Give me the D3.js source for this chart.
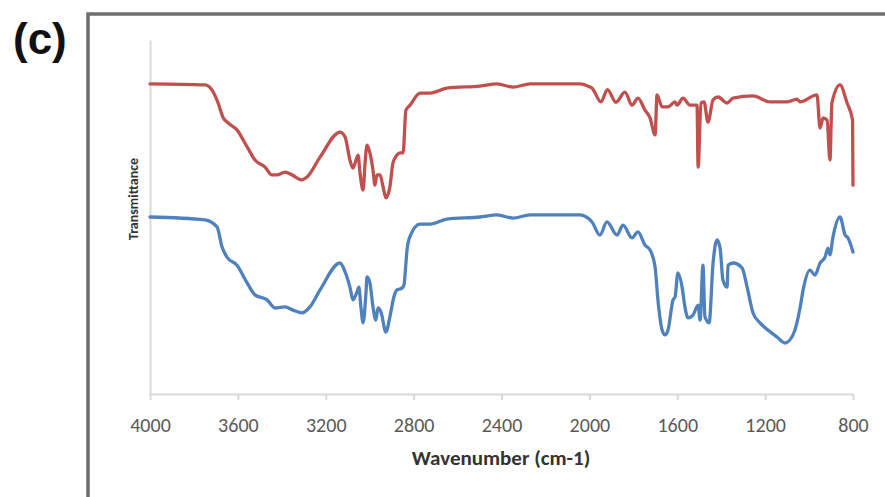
<!DOCTYPE html>
<html>
<head>
<meta charset="utf-8">
<script src="https://d3js.org/d3.v7.min.js"></script>
<style>
  body { margin: 0; background: #fff; }
  svg { display: block; }
</style>
</head>
<body>
<div id="chart"></div>
<script>
// spectra: wavenumber (cm-1) and relative transmittance
const redWave = [4000, 3750, 3718, 3690, 3668, 3645, 3604, 3558, 3522, 3476, 3445, 3422, 3385, 3354, 3308, 3285, 3226, 3135, 3112, 3090, 3076, 3053, 3044, 3030, 3021, 3012, 2999, 2985, 2976, 2967, 2953, 2939, 2926, 2908, 2894, 2876, 2862, 2848, 2835, 2816, 2771, 2725, 2648, 2498, 2420, 2348, 2270, 2043, 1997, 1988, 1947, 1918, 1879, 1838, 1806, 1779, 1747, 1724, 1701, 1692, 1669, 1642, 1610, 1601, 1574, 1542, 1510, 1505, 1492, 1478, 1460, 1437, 1414, 1373, 1346, 1255, 1178, 1100, 1055, 1041, 964, 950, 936, 918, 905, 896, 859, 827, 802, 800];
const redT = [87.6, 87.3, 85.9, 82.2, 78.2, 76.6, 74.6, 69.8, 66.1, 64.1, 61.9, 61.9, 62.7, 61.9, 60.5, 61.3, 66.9, 74.0, 72.6, 66.1, 63.8, 67.5, 62.4, 57.6, 65.3, 70.3, 68.1, 63.3, 59.0, 61.9, 61.9, 58.5, 55.4, 58.5, 65.3, 67.5, 68.1, 68.1, 80.2, 81.6, 85.0, 85.0, 86.4, 87.0, 87.6, 86.7, 87.6, 87.6, 86.7, 86.4, 82.5, 86.0, 82.4, 85.3, 81.6, 83.6, 80.2, 78.0, 73.2, 84.5, 81.1, 81.1, 82.5, 81.6, 83.6, 81.6, 81.6, 64.1, 82.2, 82.5, 76.8, 83.1, 83.9, 82.2, 83.6, 84.2, 82.5, 82.5, 83.3, 82.5, 84.5, 75.1, 78.0, 77.4, 66.1, 82.2, 87.3, 82.2, 77.4, 59.0];

const blueWave = [4000, 3750, 3695, 3672, 3650, 3604, 3558, 3522, 3467, 3431, 3385, 3349, 3308, 3272, 3226, 3135, 3112, 3090, 3076, 3058, 3049, 3040, 3030, 3017, 3012, 2999, 2985, 2972, 2962, 2949, 2926, 2908, 2890, 2876, 2853, 2844, 2835, 2830, 2816, 2771, 2725, 2648, 2498, 2420, 2348, 2270, 2043, 1988, 1952, 1920, 1874, 1847, 1806, 1779, 1747, 1724, 1701, 1688, 1669, 1656, 1642, 1619, 1610, 1597, 1578, 1565, 1551, 1528, 1505, 1496, 1483, 1474, 1455, 1437, 1419, 1405, 1392, 1373, 1369, 1346, 1305, 1282, 1255, 1223, 1169, 1146, 1110, 1073, 1041, 1027, 996, 973, 950, 927, 914, 905, 891, 859, 836, 823, 800];
const blueT = [50.0, 49.2, 47.2, 41.5, 38.7, 36.4, 31.4, 28.0, 26.6, 24.3, 24.6, 23.7, 22.9, 24.6, 29.4, 37.0, 34.5, 30.2, 26.6, 28.8, 30.2, 24.6, 20.1, 28.5, 33.1, 31.4, 24.6, 20.9, 24.3, 23.2, 17.5, 21.8, 27.4, 29.4, 29.9, 30.8, 37.0, 40.7, 44.6, 48.0, 48.0, 49.4, 50.0, 50.6, 49.7, 50.6, 50.6, 48.6, 44.9, 48.6, 44.9, 47.7, 44.1, 45.8, 42.1, 40.7, 35.9, 26.6, 18.1, 16.7, 18.1, 26.6, 27.4, 34.2, 30.2, 24.6, 21.5, 22.3, 25.1, 20.9, 36.4, 21.8, 20.1, 37.0, 43.5, 41.2, 32.2, 30.2, 36.4, 37.0, 35.6, 30.2, 22.9, 20.1, 17.2, 16.1, 14.4, 16.7, 24.3, 29.4, 35.0, 33.6, 37.0, 38.7, 41.2, 39.3, 44.4, 50.0, 44.9, 44.1, 40.1];

const xTicks = [4000, 3600, 3200, 2800, 2400, 2000, 1600, 1200, 800];
const xTitle = "Wavenumber (cm-1)";
const yTitle = "Transmittance";
const panelLabel = "(c)";

const width = 885, height = 497;
const plotLeft = 150, plotRight = 853, plotTop = 40, plotBottom = 394;

const svg = d3.select("#chart").append("svg")
  .attr("width", width)
  .attr("height", height);

// frame around the chart, cut by the page edge
svg.append("rect")
  .attr("x", 88).attr("y", 14)
  .attr("width", 830).attr("height", 486)
  .attr("fill", "none")
  .attr("stroke", "#6e6e6e")
  .attr("stroke-width", 3.5);

svg.append("text")
  .attr("x", 13).attr("y", 54)
  .attr("font-family", "Liberation Sans, Arial, sans-serif")
  .attr("font-weight", "bold")
  .attr("font-size", 44)
  .attr("fill", "#111")
  .text(panelLabel);

const x = d3.scaleLinear().domain([4000, 800]).range([plotLeft, plotRight]);
const y = d3.scaleLinear().domain([0, 100]).range([plotBottom, plotTop]);

// y axis: a bare line
const yAxis = svg.append("g")
  .attr("transform", `translate(${plotLeft},0)`)
  .call(d3.axisLeft(y).tickValues([]).tickSizeOuter(0));
yAxis.select(".domain").attr("stroke", "#d9d9d9").attr("stroke-width", 2);

const xAxis = svg.append("g")
  .attr("transform", `translate(0,${plotBottom})`)
  .call(d3.axisBottom(x).tickValues(xTicks).tickFormat(d3.format("d"))
    .tickSize(6).tickSizeOuter(0).tickPadding(18));
xAxis.select(".domain").attr("stroke", "#d9d9d9").attr("stroke-width", 2);
xAxis.selectAll(".tick line").attr("stroke", "#d9d9d9").attr("stroke-width", 2);
xAxis.selectAll(".tick text")
  .attr("fill", "#595959")
  .attr("font-family", "Carlito, Lato, sans-serif")
  .attr("font-size", 20);

svg.append("text")
  .attr("x", 501).attr("y", 465)
  .attr("text-anchor", "middle")
  .attr("font-family", "Carlito, Lato, sans-serif")
  .attr("font-weight", "bold")
  .attr("font-size", 21)
  .attr("fill", "#333")
  .text(xTitle);

svg.append("text")
  .attr("transform", "translate(138,199) rotate(-90)")
  .attr("text-anchor", "middle")
  .attr("font-family", "Carlito, Lato, sans-serif")
  .attr("font-weight", "bold")
  .attr("font-size", 14)
  .attr("fill", "#333")
  .text(yTitle);

const line = d3.line()
  .x(d => x(d[0]))
  .y(d => y(d[1]))
  .curve(d3.curveMonotoneX);

const series = [
  { wave: redWave, t: redT, color: "#c0504d" },
  { wave: blueWave, t: blueT, color: "#4f81bd" }
];

series.forEach(s => {
  const pts = s.wave.map((w, i) => [w, s.t[i]]);
  svg.append("path")
    .datum(pts)
    .attr("d", line)
    .attr("fill", "none")
    .attr("stroke", s.color)
    .attr("stroke-width", 3.3)
    .attr("stroke-linejoin", "round")
    .attr("stroke-linecap", "round");
});
</script>
</body>
</html>
